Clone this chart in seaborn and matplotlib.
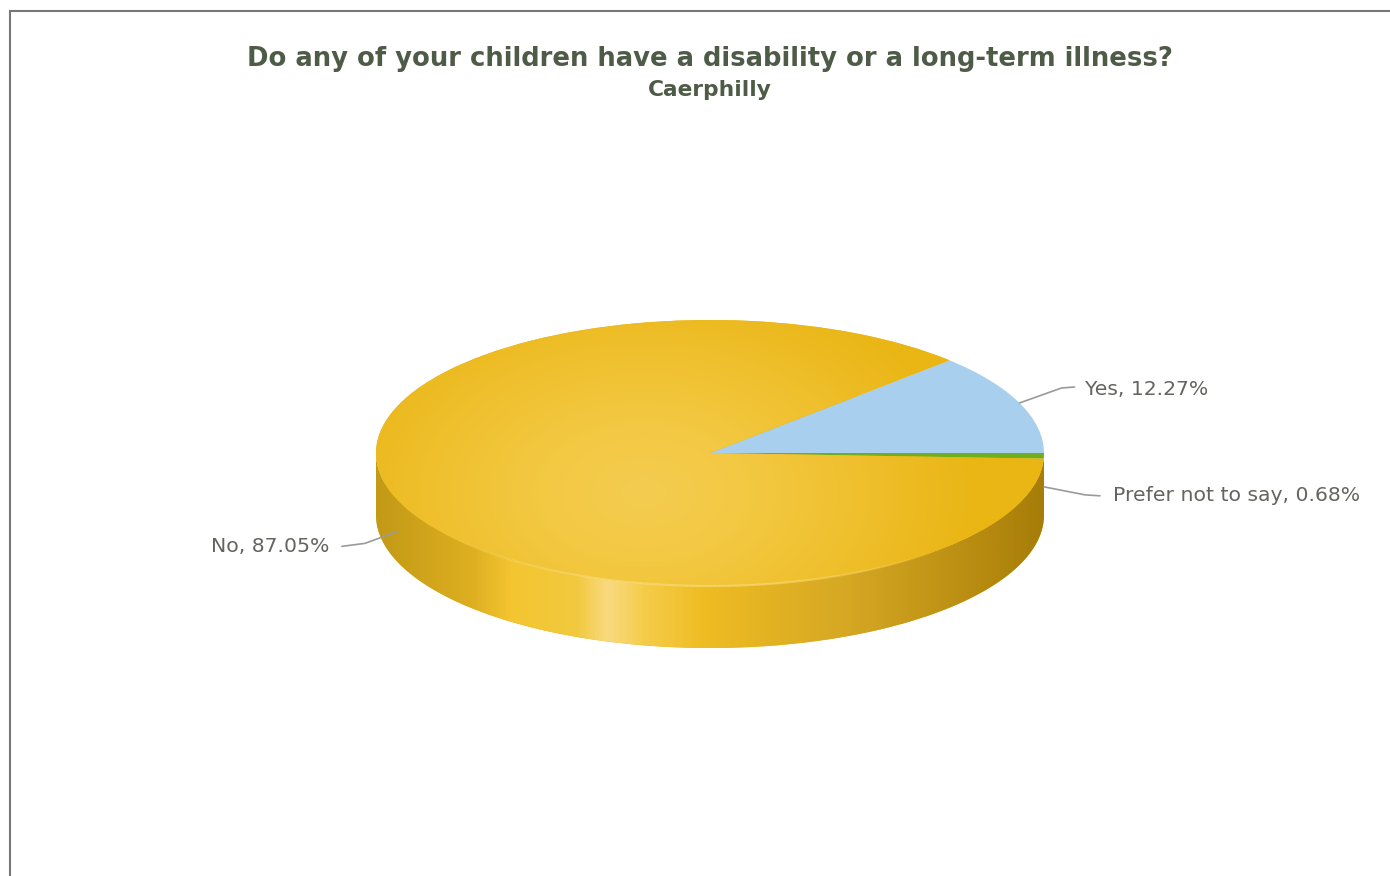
import numpy as np
import matplotlib
matplotlib.use('Agg')
import matplotlib.pyplot as plt
from matplotlib.collections import LineCollection
from matplotlib.colors import LinearSegmentedColormap
from matplotlib.patches import Polygon
import seaborn as sns

# -- -- -- data -- -- --
labels = ['Yes', 'No', 'Prefer not to say']
shares = [12.27, 87.05, 0.68]
slice_colors = ['#A8D0EE', '#E9B614', '#6FAE1E']

title = 'Do any of your children have a disability or a long-term illness?'
subtitle = 'Caerphilly'

# -- -- -- layout, pixels of the 1390x876 picture -- -- --
W, H = 1390, 876
left, top = 10, 11
cx, cy = 710, 453
rx, ry = 334, 133
depth_px = 62

sns.set_theme(style='white')
plt.rcParams['font.family'] = ['DejaVu Sans']

fig = plt.figure(figsize=(W / 100, H / 100), dpi=100, facecolor='white')
ax = fig.add_axes([left / W, 0, (W - left) / W, (H - top) / H])


def px(x, y):
    return (x - cx) / rx, (cy - y) / ry


depth = depth_px / ry

# base disc, only the front wall of it stays visible
ax.pie(shares, colors=[slice_colors[1]] * 3, radius=1, center=(0, -depth), startangle=0,
       wedgeprops={'linewidth': 0, 'zorder': 1})
wedges, _ = ax.pie(shares, colors=slice_colors, radius=1, center=(0, 0), startangle=0,
                   wedgeprops={'linewidth': 0, 'zorder': 3})

# front wall shading
wall_cmap = LinearSegmentedColormap.from_list('wall', [
    (0.00, '#C39A16'), (0.14, '#DDAE20'), (0.20, '#F4C530'), (0.30, '#F2C93F'),
    (0.345, '#F9DA80'), (0.40, '#F5CC4A'), (0.49, '#EFBC22'), (0.70, '#D6A824'),
    (0.90, '#B88C10'), (1.00, '#A67D08')])
t = np.radians(np.linspace(180, 360, 200))
front = np.column_stack([np.cos(t), np.sin(t)])
back = front[::-1] - [0, depth]
wall = Polygon(np.vstack([front, back]), closed=True, transform=ax.transData, linewidth=0)
wall_img = ax.imshow(np.linspace(0, 1, 400)[None, :], cmap=wall_cmap, aspect='auto', origin='lower',
                     extent=(-1, 1, -1 - depth, 0), zorder=2, interpolation='bilinear')
wall_img.set_clip_path(wall)

# glow on top of the big slice
top_cmap = sns.blend_palette(['#F4CC50', '#F3C841', '#EFBF2C', '#E9B614'], as_cmap=True)
gx, gy = np.meshgrid(np.linspace(-1, 1, 500), np.linspace(-1, 1, 400))
glow = np.clip(np.hypot(gx + 0.2, (gy + 0.3) * 0.6), 0, 1)
top_img = ax.imshow(glow, cmap=top_cmap, vmin=0, vmax=1, aspect='auto', origin='lower',
                    extent=(-1, 1, -1, 1), zorder=4, interpolation='bilinear')
top_img.set_clip_path(wedges[1])

# light rim between top and wall, fades out to both sides
rim = np.radians(np.linspace(215, 315, 120))
pts = np.column_stack([np.cos(rim), np.sin(rim)])
segs = np.stack([pts[:-1], pts[1:]], axis=1)
fade = np.sin(np.linspace(0, np.pi, len(segs))) * 0.7
rim_colors = np.tile(matplotlib.colors.to_rgba('#F9DC7E'), (len(segs), 1))
rim_colors[:, 3] = fade
ax.add_collection(LineCollection(segs, colors=rim_colors, linewidths=1.5, zorder=5))

# -- -- -- labels and connectors, anchored at the middle of each slice -- -- --
offsets = [((42, -15), (55, -16), (66, -13), 'left'),
           ((-33, 12), (-56, 15), (-69, 15), 'right'),
           ((41, 8), (56, 9), (69, 9), 'left')]
for wedge, name, share, (elbow, end, txt, ha) in zip(wedges, labels, shares, offsets):
    mid = np.radians((wedge.theta1 + wedge.theta2) / 2)
    ax_x, ax_y = np.cos(mid), np.sin(mid)
    if ax_y < 0.02:
        ax_y -= depth / 2
    ex, ey = elbow[0] / rx, -elbow[1] / ry
    fx, fy = end[0] / rx, -end[1] / ry
    ax.plot([ax_x, ax_x + ex, ax_x + fx], [ax_y, ax_y + ey, ax_y + fy], color='#9A9A9A', lw=1.2,
            zorder=6, solid_joinstyle='round')
    ax.text(ax_x + txt[0] / rx, ax_y - txt[1] / ry, f'{name}, {share:.2f}%', ha=ha, va='center',
            fontsize=14.7, color='#62665F', zorder=7)

ax.set_aspect('auto')
ax.set_xlim((left - cx) / rx, (W - cx) / rx)
ax.set_ylim((cy - H) / ry, (cy - top) / ry)
ax.set_xticks([])
ax.set_yticks([])

ax.set_frame_on(True)
sns.despine(ax=ax, top=False, left=False, right=True, bottom=True)
ax.spines['left'].set_color('#777777')
ax.spines['top'].set_color('#777777')
ax.spines['left'].set_linewidth(1.5)
ax.spines['top'].set_linewidth(1.5)

tx, ty = px(709.5, 59)
ax.text(tx, ty, title, ha='center', va='center', fontsize=18.6, fontweight='bold', color='#4E5C47')
tx, ty = px(709.5, 90)
ax.text(tx, ty, subtitle, ha='center', va='center', fontsize=15.7, fontweight='bold', color='#4E5C47')

fig.savefig('out.png', dpi=100)
